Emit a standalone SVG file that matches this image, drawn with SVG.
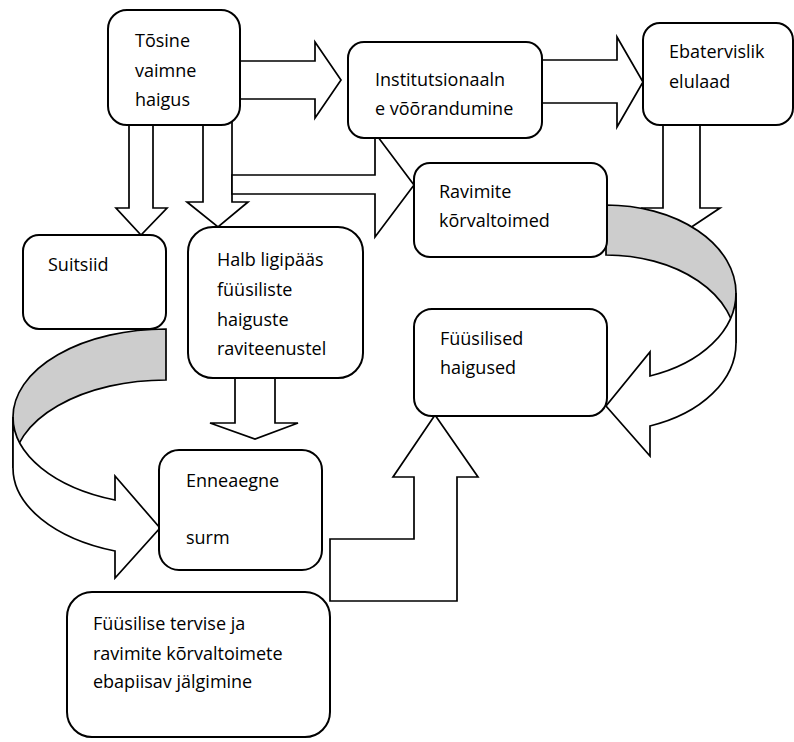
<svg xmlns="http://www.w3.org/2000/svg" width="794" height="742" viewBox="0 0 794 742">
<style>
.box{fill:#fff;stroke:#000;stroke-width:2}
.arr{fill:#fff;stroke:#000;stroke-width:1.7;stroke-linejoin:miter}
.shade{fill:#cdcdcd;stroke:#000;stroke-width:1.7}
text{font-family:"Open Sans","Noto Sans",sans-serif;font-size:18px;fill:#000}
</style>
<rect width="794" height="742" fill="#fff"/>
<g id="connectors">
<path class="arr" d="M129,118 L129,208 L116,208 L141,235 L167,208 L153,208 L153,118 Z"/>
<path class="arr" d="M203,115 L203,202 L187,202 L218,227 L248,202 L232,202 L232,115 Z"/>
<path class="arr" d="M232,175 L375,175 L375,133 L414,185 L375,237 L375,194 L232,194 Z"/>
<path class="arr" d="M235,61 L315,61 L315,42 L341,80 L315,118 L315,99 L235,99 Z"/>
<path class="arr" d="M538,60 L617,60 L617,37 L643,82 L617,127 L617,103 L538,103 Z"/>
<path class="arr" d="M235,373 L235,423 L210,423 L255,439 L298,423 L275,423 L275,373 Z"/>
<path class="arr" d="M330,539 L414,539 L414,477 L393,477 L435,415 L478,477 L457,477 L457,601 L330,601 Z"/>
<path class="arr" d="M663,120 L663,208 L643,208 L681,234 L720,208 L700,208 L700,120 Z"/>
<path class="shade" d="M166,329 A153,88 0 0 0 13,417 L13,468 A153,88 0 0 1 166,380 Z"/>
<path class="arr" d="M13,417 A153,88 0 0 0 115,500 L115,476 L160,528 L115,578 L115,551 A153,88 0 0 1 13,468 Z"/>
<path class="shade" d="M606,205 A130,88 0 0 1 736,293 L736,343 A130,88 0 0 0 606,255 Z"/>
<path class="arr" d="M736,293 A130,88 0 0 1 650,376 L650,352 L606,406 L650,456 L650,426 A130,88 0 0 0 736,343 Z"/>
</g>
<g id="n1"><rect class="box" x="108" y="10" width="132" height="115" rx="19"/><text x="135" y="47">Tõsine</text><text x="135" y="77">vaimne</text><text x="135" y="106">haigus</text></g>
<g id="n2"><rect class="box" x="348" y="42" width="194" height="96" rx="16"/><text x="375" y="86">Institutsionaaln</text><text x="375" y="115">e võõrandumine</text></g>
<g id="n3"><rect class="box" x="643" y="23" width="150" height="102" rx="17"/><text x="669" y="58">Ebatervislik</text><text x="669" y="88">elulaad</text></g>
<g id="n4"><rect class="box" x="414" y="163" width="193" height="94" rx="16"/><text x="439" y="198">Ravimite</text><text x="439" y="227">kõrvaltoimed</text></g>
<g id="n5"><rect class="box" x="23" y="235" width="143" height="94" rx="16"/><text x="48" y="271">Suitsiid</text></g>
<g id="n6"><rect class="box" x="188" y="227" width="175" height="151" rx="25"/><text x="217" y="266">Halb ligipääs</text><text x="217" y="296">füüsiliste</text><text x="217" y="326">haiguste</text><text x="217" y="355">raviteenustel</text></g>
<g id="n7"><rect class="box" x="159" y="450" width="163" height="120" rx="20"/><text x="186" y="487">Enneaegne</text><text x="186" y="544">surm</text></g>
<g id="n8"><rect class="box" x="414" y="309" width="193" height="107" rx="18"/><text x="440" y="345">Füüsilised</text><text x="440" y="374">haigused</text></g>
<g id="n9"><rect class="box" x="67" y="592" width="263" height="145" rx="25"/><text x="93" y="630">Füüsilise tervise ja</text><text x="93" y="660">ravimite kõrvaltoimete</text><text x="93" y="688">ebapiisav jälgimine</text></g>
</svg>
